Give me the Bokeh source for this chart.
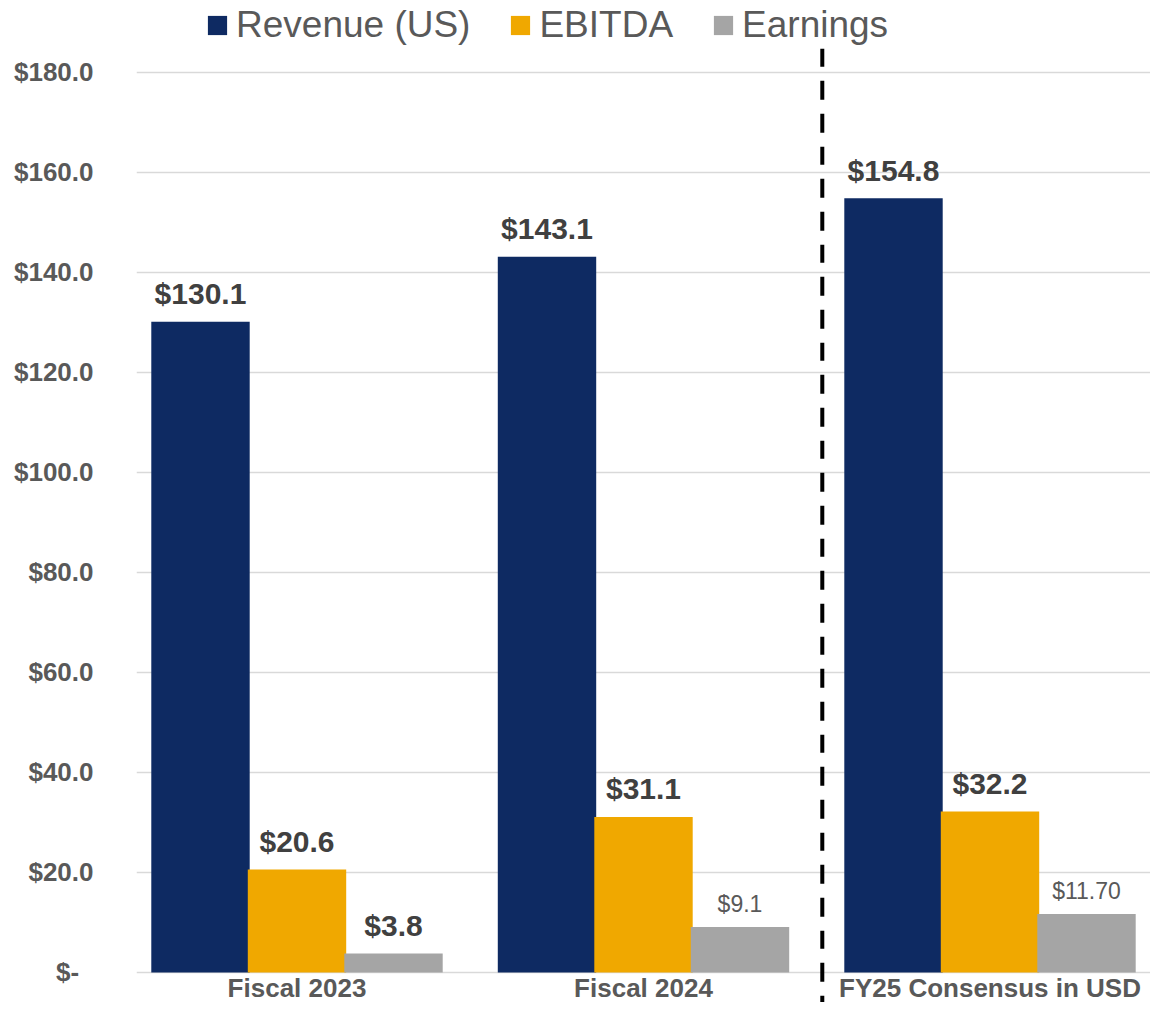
from bokeh.plotting import figure
from bokeh.models import ColumnDataSource, FactorRange, Range1d, FixedTicker
from bokeh.transform import dodge
from bokeh.core.properties import value
from bokeh.embed import file_html
from bokeh.resources import INLINE

# ---- data ----
categories = ["Fiscal 2023", "Fiscal 2024", "FY25 Consensus in USD"]
revenue = [130.1, 143.1, 154.8]
ebitda = [20.6, 31.1, 32.2]
earnings = [3.8, 9.1, 11.70]
revenue_labels = ["$130.1", "$143.1", "$154.8"]
ebitda_labels = ["$20.6", "$31.1", "$32.2"]
earnings_labels = ["$3.8", "$9.1", "$11.70"]
series_names = ["Revenue (US)", "EBITDA", "Earnings"]
y_ticks = [0, 20, 40, 60, 80, 100, 120, 140, 160, 180]
y_tick_labels = ["$-\u00a0\u00a0", "$20.0", "$40.0", "$60.0", "$80.0", "$100.0",
                 "$120.0", "$140.0", "$160.0", "$180.0"]
divider_after = "Fiscal 2024"

# ---- styles ----
earn_styles = ["bold", "normal", "normal"]
earn_sizes = ["30px", "23px", "23px"]
earn_colors = ["#404040", "#595959", "#595959"]
earn_offsets = [-28, -23, -23]
NAVY, ORANGE, GRAY = "#0E2A62", "#F0A800", "#A5A5A5"
FONT = value("Liberation Sans")

src = ColumnDataSource(dict(
    cat=categories, rev=revenue, ebit=ebitda, earn=earnings,
    rev_lbl=revenue_labels, ebit_lbl=ebitda_labels, earn_lbl=earnings_labels,
    earn_style=earn_styles, earn_size=earn_sizes, earn_color=earn_colors,
    earn_off=earn_offsets,
))

p = figure(
    x_range=FactorRange(*categories, range_padding=-0.0368, range_padding_units="absolute"),
    y_range=Range1d(-6.0, 194.36),
    width=1150, height=1002,
    output_backend="svg", toolbar_location=None,
    min_border_left=136, min_border_right=0, min_border_top=0, min_border_bottom=0,
)
p.outline_line_color = None
p.background_fill_color = "white"

off = 0.2785
bw = 0.284
p.vbar(x=dodge("cat", -off, range=p.x_range), top="rev", width=bw, source=src,
       fill_color=NAVY, line_color=None, legend_label=series_names[0])
p.vbar(x=dodge("cat", 0.0, range=p.x_range), top="ebit", width=bw, source=src,
       fill_color=ORANGE, line_color=None, legend_label=series_names[1])
p.vbar(x=dodge("cat", off, range=p.x_range), top="earn", width=bw, source=src,
       fill_color=GRAY, line_color=None, legend_label=series_names[2])

# data labels
p.text(x=dodge("cat", -off, range=p.x_range), y="rev", text="rev_lbl", source=src,
       text_align="center", text_baseline="alphabetic", y_offset=-28,
       text_font=FONT, text_font_style="bold", text_font_size="30px", text_color="#404040")
p.text(x=dodge("cat", 0.0, range=p.x_range), y="ebit", text="ebit_lbl", source=src,
       text_align="center", text_baseline="alphabetic", y_offset=-28,
       text_font=FONT, text_font_style="bold", text_font_size="30px", text_color="#404040")
p.text(x=dodge("cat", off, range=p.x_range), y="earn", text="earn_lbl", source=src,
       text_align="center", text_baseline="alphabetic", y_offset="earn_off",
       text_font=FONT, text_font_style="earn_style", text_font_size="earn_size",
       text_color="earn_color")

# dashed divider
div_src = ColumnDataSource(dict(x=[divider_after], y0=[184.7], y1=[-6.5]))
p.segment(x0=dodge("x", 0.516, range=p.x_range), x1=dodge("x", 0.516, range=p.x_range),
          y0="y0", y1="y1", source=div_src, line_color="black", line_width=4,
          line_dash="18 14 19 14 19 14")

# axes / grid
p.xgrid.visible = False
p.yaxis.ticker = FixedTicker(ticks=y_ticks)
p.ygrid.grid_line_color = "#D9D9D9"
p.ygrid.grid_line_width = 1.5
p.yaxis.major_label_overrides = {t: l for t, l in zip(y_ticks, y_tick_labels)}
p.yaxis.axis_line_color = None
p.yaxis.major_tick_line_color = None
p.yaxis.minor_tick_line_color = None
p.yaxis.major_tick_out = 0
p.yaxis.major_tick_in = 0
p.yaxis.major_label_standoff = 43
p.yaxis.major_label_text_font = "Liberation Sans"
p.yaxis.major_label_text_font_style = "bold"
p.yaxis.major_label_text_font_size = "26px"
p.yaxis.major_label_text_color = "#595959"

p.xaxis.fixed_location = 0
p.xaxis.axis_line_color = None
p.xaxis.major_tick_line_color = None
p.xaxis.minor_tick_line_color = None
p.xaxis.major_tick_out = 0
p.xaxis.major_tick_in = 0
p.xaxis.major_label_standoff = 1
p.xaxis.major_label_text_font = "Liberation Sans"
p.xaxis.major_label_text_font_style = "bold"
p.xaxis.major_label_text_font_size = "26px"
p.xaxis.major_label_text_color = "#595959"

# legend
lg = p.legend[0]
lg.orientation = "horizontal"
lg.location = (69, 956)
lg.glyph_width = 24
lg.glyph_height = 24
lg.label_standoff = 7
lg.spacing = 38
lg.padding = 0
lg.margin = 0
lg.border_line_color = None
lg.background_fill_alpha = 0
lg.label_text_font = "Liberation Sans"
lg.label_text_font_size = "37px"
lg.label_text_color = "#595959"

open("out.html", "w").write(file_html(p, INLINE))
